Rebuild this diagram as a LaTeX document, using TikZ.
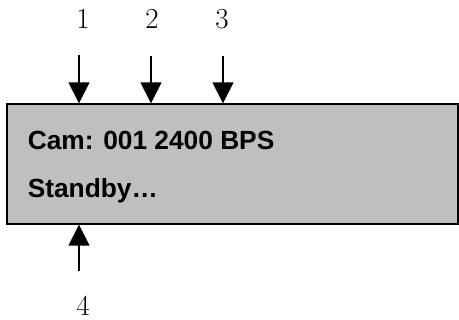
\documentclass[tikz,border=0pt]{standalone}
\usepackage{fontspec}
\setsansfont{Liberation Sans}
\usetikzlibrary{arrows.meta}
\usetikzlibrary{positioning}

\begin{document}
\begin{tikzpicture}[x=1pt, y=-1pt, line width=1.6pt,
        pointer/.style={-{Triangle[width=21pt,length=21pt]}},
        num/.style={inner sep=0pt, font=\fontsize{29}{29}\selectfont},
        lcd/.style={draw, line width=1.4pt, fill=black!25, minimum width=451pt, minimum height=120pt, inner sep=0pt},
        line/.style={anchor=base west, inner sep=0pt, font=\sffamily\bfseries\fontsize{26.3}{26}\selectfont}]
        \useasboundingbox (0,0) rectangle (459,320);

        \node[lcd] (panel) at (232.5,164) {};
        \node[line] (cam) at (27,150) {Cam: 001 2400 BPS};
        \node[line] (stby) at (27,198) {Standby\ldots};

        \node[num] (n1) at (83,19) {1};
        \node[num] (n2) at (152,19) {2};
        \node[num] (n3) at (222,19) {3};
        \node[num] (n4) at (83,306) {4};

        \coordinate (s1) at (79,55);
        \coordinate (s2) at (151,56);
        \coordinate (s3) at (223,56);
        \coordinate (s4) at (79,271);

        \path (s1) edge[pointer] (s1 |- panel.north)
              (s2) edge[pointer] (s2 |- panel.north)
              (s3) edge[pointer] (s3 |- panel.north)
              (s4) edge[pointer] (s4 |- panel.south);
    \end{tikzpicture}
\end{document}
